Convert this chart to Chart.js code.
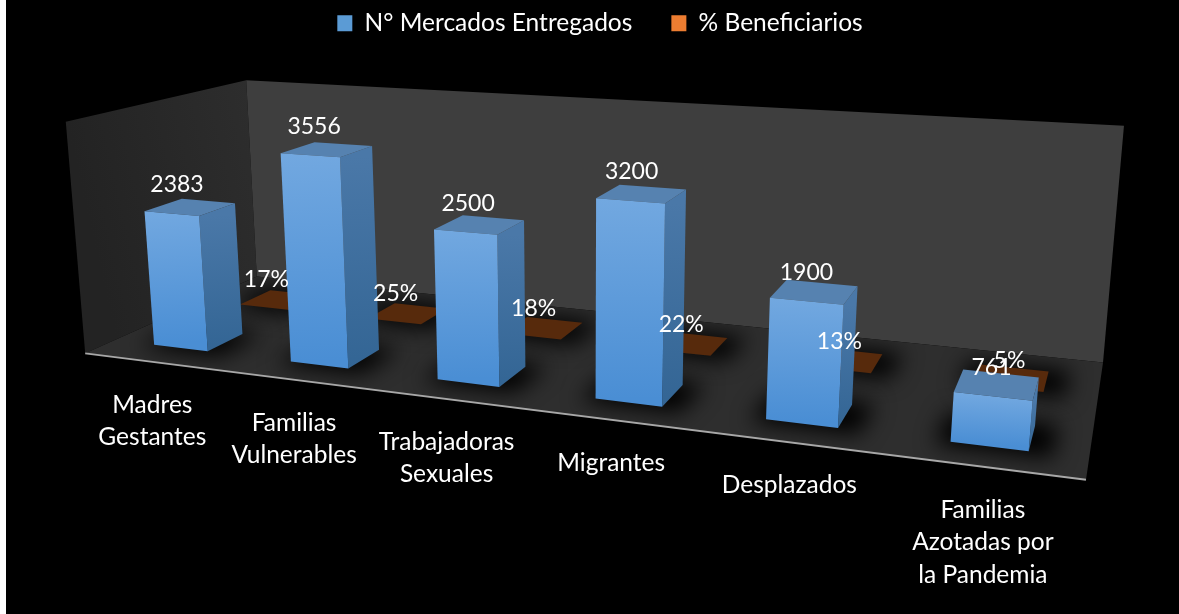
<!DOCTYPE html>
<html><head><meta charset="utf-8">
<style>html,body{margin:0;padding:0;background:#000}#w{width:1179px;height:614px;position:relative}#w::before{content:"";position:absolute;left:0;top:0;width:6px;height:614px;background:#fff}</style>
<script src="https://cdn.jsdelivr.net/npm/chart.js@4"></script></head>
<body><div id="w"><canvas id="c" width="1179" height="614"></canvas></div>
<script>
const categories = [["Madres","Gestantes"],["Familias","Vulnerables"],["Trabajadoras","Sexuales"],["Migrantes"],["Desplazados"],["Familias","Azotadas por","la Pandemia"]];
const mercados = [2383,3556,2500,3200,1900,761];
const beneficiarios = [0.17,0.25,0.18,0.22,0.13,0.05];
const seriesNames = ["N° Mercados Entregados","% Beneficiarios"];
const axisMax = 4000;
const FONT = "Lato";
const FS = 24.5;
const FS_DATA = 23;

// camera calibration: unit box corners (u across, v up, w deep) -> screen
const calib = [
 [0,0,0,85,353],[1,0,0,1086,480],[1,0,1,1103,362],[0,0,1,257,277],
 [0,1,1,246,80],[1,1,1,1124,126],[0,1,0,66,122]];
function solve(A,b){const n=b.length;const M=A.map((r,i)=>[...r,b[i]]);
 for(let i=0;i<n;i++){let p=i;for(let k=i+1;k<n;k++)if(Math.abs(M[k][i])>Math.abs(M[p][i]))p=k;[M[i],M[p]]=[M[p],M[i]];
  for(let k=0;k<n;k++){if(k===i)continue;const f=M[k][i]/M[i][i];for(let j=i;j<=n;j++)M[k][j]-=f*M[i][j];}}
 return M.map((r,i)=>r[n]/r[i]);}
const cam=(()=>{const rows=[],rhs=[];
 for(const [u,v,w,x,y] of calib){
  rows.push([u,v,w,1,0,0,0,0,-x*u,-x*v,-x*w]);rhs.push(x);
  rows.push([0,0,0,0,u,v,w,1,-y*u,-y*v,-y*w]);rhs.push(y);}
 const n=11,A=Array.from({length:n},()=>Array(n).fill(0)),b=Array(n).fill(0);
 rows.forEach((r,k)=>{for(let i=0;i<n;i++){b[i]+=r[i]*rhs[k];for(let j=0;j<n;j++)A[i][j]+=r[i]*r[j];}});
 return solve(A,b);})();
function P(u,v,w){const d=cam[8]*u+cam[9]*v+cam[10]*w+1;
 return [(cam[0]*u+cam[1]*v+cam[2]*w+cam[3])/d,(cam[4]*u+cam[5]*v+cam[6]*w+cam[7])/d];}

function poly(ctx,pts){ctx.beginPath();pts.forEach((p,i)=>i?ctx.lineTo(p[0],p[1]):ctx.moveTo(p[0],p[1]));ctx.closePath();}
function grad(ctx,a,b,c0,c1){const g=ctx.createLinearGradient(a[0],a[1],b[0],b[1]);g.addColorStop(0,c0);g.addColorStop(1,c1);return g;}

const depth=[[0.15,0.35],[0.65,0.85]];
const faces=[
 {frontT:"#72a8e0",frontB:"#4a8ed4",sideT:"#4a78a8",sideB:"#336594",top:"#5682b0"},
 {frontT:"#a8571f",frontB:"#a8571f",sideT:"#6b3511",sideB:"#6b3511",top:"#572a0c"}];

const box3d={id:"box3d",
 beforeDatasetsDraw(chart){
  const ctx=chart.ctx,a=chart.chartArea;
  const U=x=>(x-a.left)/(a.right-a.left),V=y=>(a.bottom-y)/(a.bottom-a.top);
  ctx.save();
  const c=(u,v,w)=>P(u,v,w);
  poly(ctx,[c(0,0,0),c(0,1,0),c(0,1,1),c(0,0,1)]);
  ctx.fillStyle=grad(ctx,c(0,1,0),c(0,1,1),"#232323","#2d2d2d");ctx.fill();
  poly(ctx,[c(0,0,1),c(1,0,1),c(1,1,1),c(0,1,1)]);
  ctx.fillStyle="#3e3e3e";ctx.fill();
  poly(ctx,[c(0,0,0),c(1,0,0),c(1,0,1),c(0,0,1)]);
  ctx.fillStyle="#2e2e2e";ctx.fill();
  // floor shadows, clipped to the floor
  ctx.save();
  poly(ctx,[c(0,0,-0.05),c(1,0,-0.05),c(1,0,1),c(0,0,1)]);ctx.clip();
  ctx.filter="blur(11px)";ctx.fillStyle="#000";
  for(let s=1;s>=0;s--){
   chart.getDatasetMeta(s).data.forEach(b=>{
    const u0=U(b.x-b.width/2),u1=U(b.x+b.width/2),[w0,w1]=depth[s];
    poly(ctx,[c(u0-.012,0,w0-.03),c(u1+.02,0,w0-.03),c(u1+.02,0,w1+.03),c(u0-.012,0,w1+.03)]);ctx.fill();
   });
  }
  ctx.restore();
  ctx.strokeStyle="#a8a8a8";ctx.lineWidth=2;
  ctx.beginPath();ctx.moveTo(...c(0,0,0));ctx.lineTo(...c(1,0,0));ctx.stroke();
  // cuboids, far series first
  for(let s=1;s>=0;s--){
   const f=faces[s],[w0,w1]=depth[s];
   chart.getDatasetMeta(s).data.forEach(b=>{
    const u0=U(b.x-b.width/2),u1=U(b.x+b.width/2),v=V(b.y);
    const side=[c(u1,0,w0),c(u1,v,w0),c(u1,v,w1),c(u1,0,w1)];
    poly(ctx,side);ctx.fillStyle=grad(ctx,side[1],side[0],f.sideT,f.sideB);ctx.fill();
    const top=[c(u0,v,w0),c(u1,v,w0),c(u1,v,w1),c(u0,v,w1)];
    poly(ctx,top);ctx.fillStyle=f.top;ctx.fill();
    const fr=[c(u0,0,w0),c(u1,0,w0),c(u1,v,w0),c(u0,v,w0)];
    poly(ctx,fr);ctx.fillStyle=grad(ctx,fr[3],fr[0],f.frontT,f.frontB);ctx.fill();
   });
  }
  // data labels
  ctx.fillStyle="#fff";ctx.font=FS_DATA+"px "+FONT;ctx.textAlign="center";ctx.textBaseline="middle";
  chart.getDatasetMeta(0).data.forEach((b,i)=>{
   const u=U(b.x),p=c(u,V(b.y),depth[0][0]);ctx.fillText(String(mercados[i]),p[0]+6-8*u,p[1]-29);});
  chart.getDatasetMeta(1).data.forEach((b,i)=>{
   const p=c(U(b.x),V(b.y),depth[1][0]);ctx.fillText(Math.round(beneficiarios[i]*100)+"%",p[0]+1.5,p[1]-28);});
  // category labels
  ctx.font=FS+"px "+FONT;
  const xs=chart.scales.x;
  categories.forEach((lab,i)=>{
   const p=c(U(xs.getPixelForValue(i)),0,0);
   lab.forEach((t,k)=>ctx.fillText(t,p[0],p[1]+43+k*32.5));
  });
  ctx.restore();
  return false;
 }};

new Chart(document.getElementById("c"),{
 type:"bar",
 data:{labels:categories,datasets:[
  {label:seriesNames[0],data:mercados,backgroundColor:"#5b9bd5",grouped:false,barPercentage:0.4,categoryPercentage:1},
  {label:seriesNames[1],data:beneficiarios,backgroundColor:"#ed7d31",grouped:false,barPercentage:0.4,categoryPercentage:1}]},
 options:{responsive:false,animation:false,
  layout:{padding:{top:-28,left:21,right:0,bottom:20}},
  scales:{x:{display:false},y:{display:false,min:0,max:axisMax}},
  plugins:{tooltip:{enabled:false},
   legend:{position:"top",labels:{color:"#fff",boxWidth:15,boxHeight:16,padding:39,font:{family:FONT,size:FS}}}}},
 plugins:[box3d]});
</script></body></html>
